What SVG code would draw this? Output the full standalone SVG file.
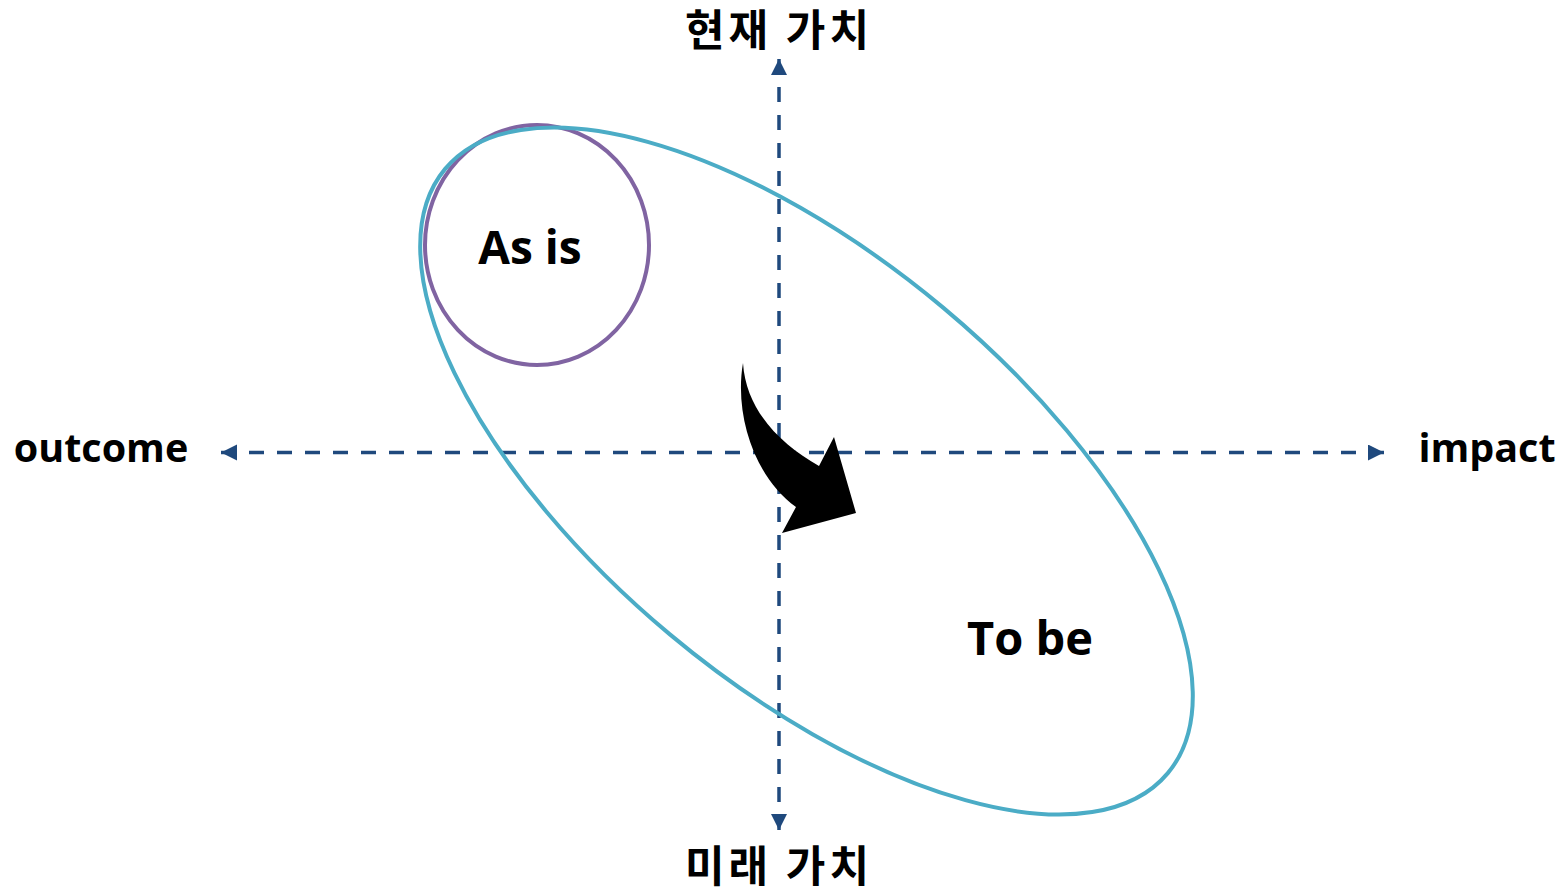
<svg xmlns="http://www.w3.org/2000/svg" width="1565" height="888" viewBox="0 0 1565 888">
  <style>
    .axis { stroke: #1F497D; stroke-width: 3.5; stroke-dasharray: 15 13; fill: none; }
    .lbl { font-family: "Open Sans", "Noto Sans CJK KR", sans-serif; font-weight: 700; fill: #000; }
    .kr { font-family: "Noto Sans CJK KR", sans-serif; font-weight: 700; fill: #000; font-size: 43px; letter-spacing: 4px; }
  </style>
  <defs>
    <marker id="ah" markerUnits="userSpaceOnUse" markerWidth="18" markerHeight="18" refX="16" refY="8" orient="auto-start-reverse">
      <path d="M0,0 L16,8 L0,16 Z" fill="#1F497D"/>
    </marker>
  </defs>
  <g id="connectors">
    <line class="axis" x1="221" y1="452.5" x2="1384" y2="452.5" marker-start="url(#ah)" marker-end="url(#ah)"/>
    <line class="axis" x1="779" y1="59" x2="779" y2="830" marker-start="url(#ah)" marker-end="url(#ah)"/>
  </g>
  <g id="as-is">
    <ellipse cx="537" cy="245" rx="112" ry="120" fill="none" stroke="#8064A2" stroke-width="4"/>
    <text class="lbl" x="530" y="264" font-size="46" text-anchor="middle">As is</text>
  </g>
  <g id="to-be">
    <ellipse cx="806.5" cy="471" rx="471" ry="213" transform="rotate(39.9 806.5 471)" fill="none" stroke="#4BACC6" stroke-width="4"/>
    <text class="lbl" x="1030" y="655" font-size="47" text-anchor="middle">To be</text>
  </g>
  <g id="curved-arrow">
    <path d="M743,363 C734,415 755,478 796,507 L782,533 L856,513 L834,437 L819,466 C780,444 746,410 743,363 Z" fill="#000"/>
  </g>
  <g id="labels">
    <text class="lbl" x="101" y="462" font-size="39.5" text-anchor="middle">outcome</text>
    <text class="lbl" x="1487" y="462" font-size="39.5" text-anchor="middle">impact</text>
    <text class="kr" x="779" y="46" text-anchor="middle">현재 가치</text>
    <text class="kr" x="779" y="882" text-anchor="middle">미래 가치</text>
  </g>
</svg>
